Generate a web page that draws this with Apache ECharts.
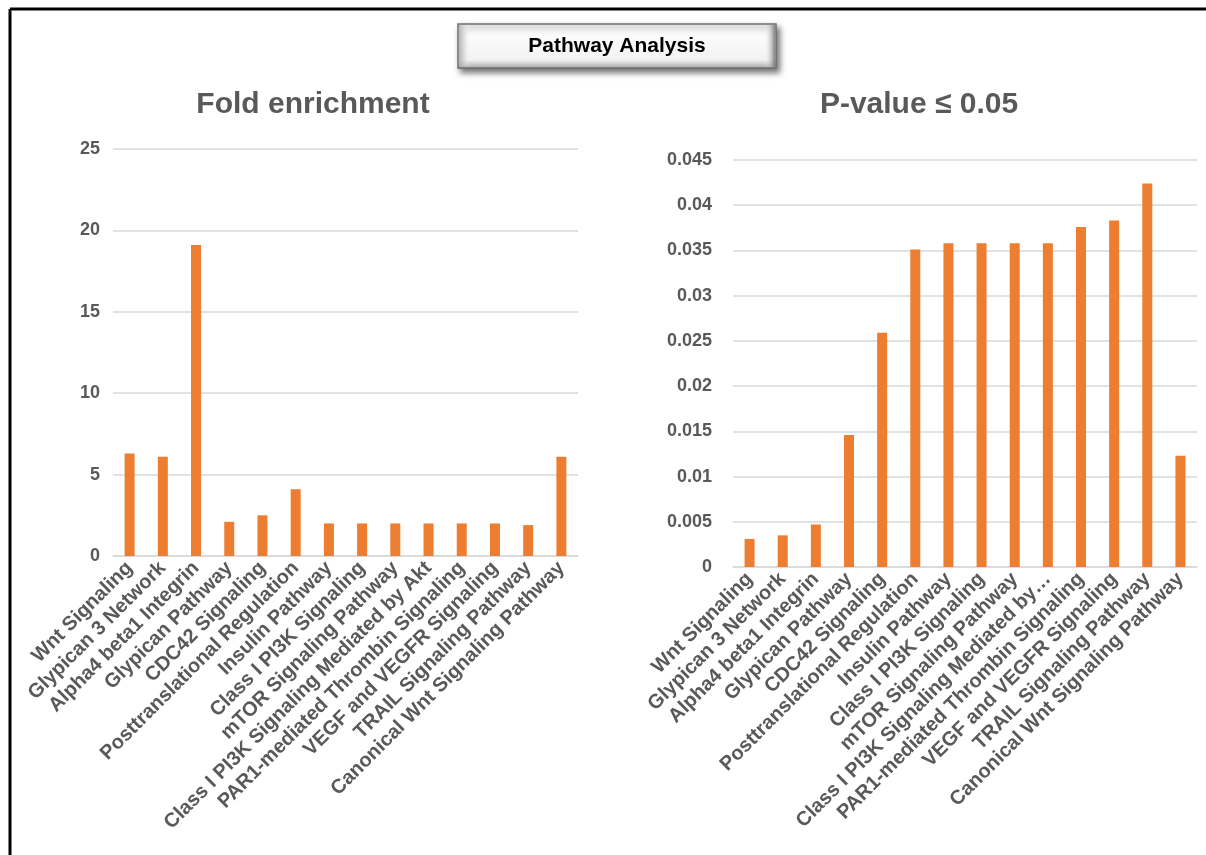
<!DOCTYPE html>
<html>
<head>
<meta charset="utf-8">
<script src="https://cdn.jsdelivr.net/npm/echarts@6/dist/echarts.min.js"></script>
<style>
  html, body { margin: 0; padding: 0; background: #ffffff; }
  #chart { width: 1206px; height: 855px; }
</style>
</head>
<body>
<div id="chart"></div>
<script>
// Pathway names shared by both panels
const pathways = [
  'Wnt Signaling',
  'Glypican 3 Network',
  'Alpha4 beta1 Integrin',
  'Glypican Pathway',
  'CDC42 Signaling',
  'Posttranslational Regulation',
  'Insulin Pathway',
  'Class I PI3K Signaling',
  'mTOR Signaling Pathway',
  'Class I PI3K Signaling Mediated by Akt',
  'PAR1-mediated Thrombin Signaling',
  'VEGF and VEGFR Signaling',
  'TRAIL Signaling Pathway',
  'Canonical Wnt Signaling Pathway'
];

// Fold enrichment per pathway
const foldEnrichment = [6.3, 6.1, 19.1, 2.1, 2.5, 4.1, 2.0, 2.0, 2.0, 2.0, 2.0, 2.0, 1.9, 6.1];

// P-value per pathway
const pValues = [0.0031, 0.0035, 0.0047, 0.0146, 0.0259, 0.0351, 0.0358, 0.0358, 0.0358, 0.0358, 0.0376, 0.0383, 0.0424, 0.0123];

// Axis ranges
const foldAxis = { min: 0, max: 25, interval: 5 };
const pAxis = { min: 0, max: 0.045, interval: 0.005 };

const mainTitle = 'Pathway Analysis';
const leftTitle = 'Fold enrichment';
const rightTitle = 'P-value \u2264 0.05';

const ORANGE = '#ED7D31';
const GREY_TEXT = '#595959';
const GRID_LINE = '#D9D9D9';
const FONT = 'Liberation Sans, Arial, sans-serif';

function categoryAxis(gridIndex, truncate) {
  return {
    type: 'category',
    gridIndex: gridIndex,
    data: pathways,
    axisTick: { show: false },
    axisLine: { show: true, lineStyle: { color: GRID_LINE, width: 1.5 } },
    axisLabel: {
      interval: 0,
      rotate: 45,
      margin: 9,
      color: GREY_TEXT,
      fontFamily: FONT,
      fontWeight: 'bold',
      fontSize: 20,
      formatter: function (v) {
        return (truncate && v.length > 34) ? v.slice(0, 34) + '\u2026' : v;
      }
    }
  };
}

function valueAxis(gridIndex, range, decimals, margin) {
  return {
    type: 'value',
    gridIndex: gridIndex,
    min: range.min,
    max: range.max,
    interval: range.interval,
    axisLine: { show: false },
    axisTick: { show: false },
    splitLine: { lineStyle: { color: GRID_LINE, width: 1.5 } },
    axisLabel: {
      margin: margin,
      color: GREY_TEXT,
      fontFamily: FONT,
      fontWeight: 'bold',
      fontSize: 18,
      formatter: function (v) { return String(parseFloat(v.toFixed(decimals))); }
    }
  };
}

const chart = echarts.init(document.getElementById('chart'), null, { renderer: 'canvas' });

chart.setOption({
  backgroundColor: '#ffffff',
  animation: false,
  title: [
    {
      text: leftTitle, left: 308, top: 85, textAlign: 'center',
      textStyle: { color: GREY_TEXT, fontFamily: FONT, fontWeight: 'bold', fontSize: 30 }
    },
    {
      text: rightTitle, left: 914, top: 85, textAlign: 'center',
      textStyle: { color: GREY_TEXT, fontFamily: FONT, fontWeight: 'bold', fontSize: 30 }
    }
  ],
  grid: [
    { left: 113, right: 628, top: 149, bottom: 299, containLabel: false },
    { left: 733, right: 9, top: 160, bottom: 288, containLabel: false }
  ],
  xAxis: [categoryAxis(0, false), categoryAxis(1, true)],
  yAxis: [valueAxis(0, foldAxis, 0, 13), valueAxis(1, pAxis, 3, 21)],
  series: [
    {
      type: 'bar', xAxisIndex: 0, yAxisIndex: 0,
      data: foldEnrichment, barWidth: 10,
      itemStyle: { color: ORANGE }
    },
    {
      type: 'bar', xAxisIndex: 1, yAxisIndex: 1,
      data: pValues, barWidth: 10,
      itemStyle: { color: ORANGE }
    }
  ],
  graphic: [
    // page frame on the top and left edges
    { type: 'line', shape: { x1: 10, y1: 9, x2: 1206, y2: 9 }, style: { stroke: '#000', lineWidth: 3 } },
    { type: 'line', shape: { x1: 10, y1: 9, x2: 10, y2: 855 }, style: { stroke: '#000', lineWidth: 3 } },
    // bevelled heading button
    {
      type: 'rect',
      shape: { x: 458, y: 24, width: 318, height: 44 },
      style: {
        fill: {
          type: 'linear', x: 0, y: 0, x2: 0, y2: 1,
          colorStops: [
            { offset: 0, color: '#eeeeee' },
            { offset: 0.15, color: '#ffffff' },
            { offset: 0.8, color: '#f2f2f2' },
            { offset: 1, color: '#a8a8a8' }
          ]
        },
        stroke: '#6f6f6f',
        lineWidth: 1.5,
        shadowBlur: 6,
        shadowOffsetX: 3,
        shadowOffsetY: 4,
        shadowColor: 'rgba(0,0,0,0.55)'
      },
      z: 10
    },
    {
      type: 'rect',
      shape: { x: 459, y: 25, width: 316, height: 42 },
      style: {
        fill: {
          type: 'linear', x: 0, y: 0, x2: 1, y2: 0,
          colorStops: [
            { offset: 0, color: 'rgba(170,170,170,0.8)' },
            { offset: 0.035, color: 'rgba(255,255,255,0)' },
            { offset: 0.965, color: 'rgba(255,255,255,0)' },
            { offset: 1, color: 'rgba(120,120,120,0.9)' }
          ]
        }
      },
      z: 11
    },
    {
      type: 'text',
      x: 617, y: 46,
      style: {
        text: mainTitle,
        fill: '#000000',
        font: 'bold 21px ' + FONT,
        textAlign: 'center',
        textVerticalAlign: 'middle'
      },
      z: 12
    }
  ]
});
</script>
</body>
</html>
